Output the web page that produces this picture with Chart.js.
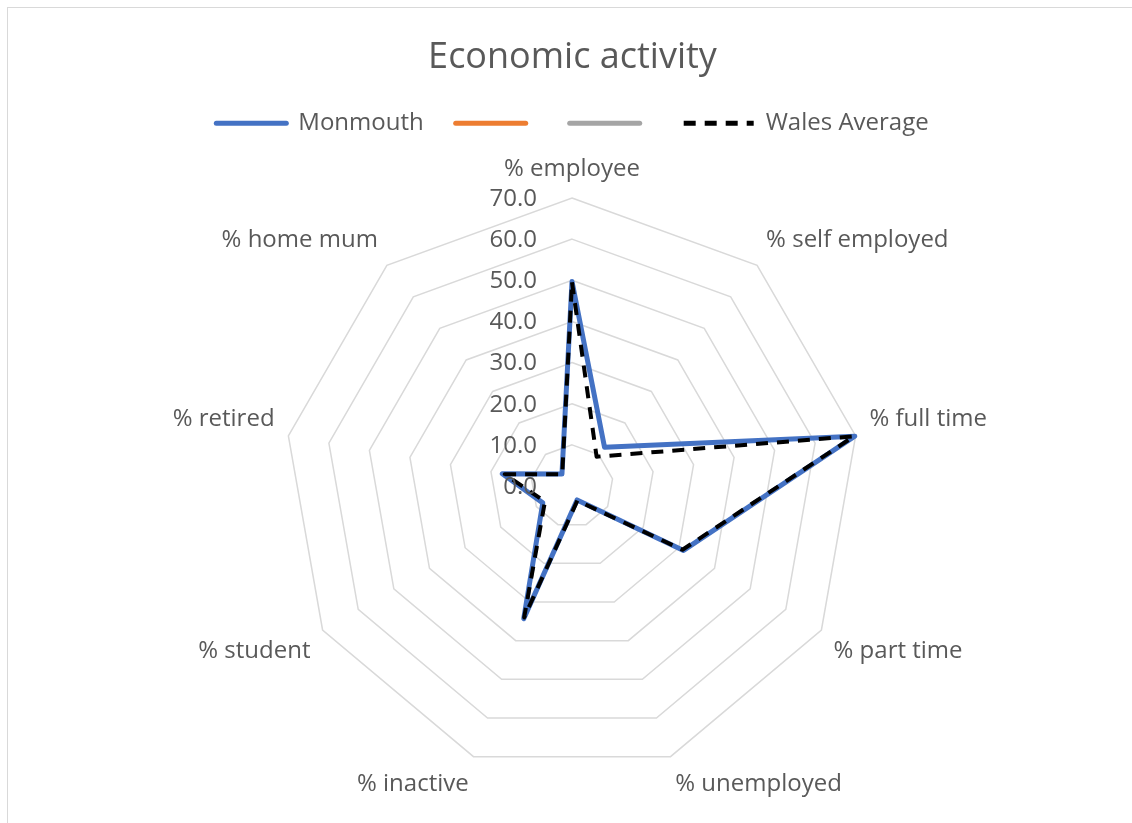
<!DOCTYPE html>
<html>
<head>
<meta charset="utf-8">
<title>Economic activity</title>
<script src="https://cdn.jsdelivr.net/npm/chart.js@4.4.1/dist/chart.umd.min.js"></script>
<style>
  html, body { margin: 0; padding: 0; background: #fff; overflow: hidden; }
  .frame {
    position: absolute; left: 7px; top: 7px;
    width: 1131px; height: 830px;
    border: 1px solid #d9d9d9; box-sizing: border-box;
  }
  canvas { display: block; }
</style>
</head>
<body>
<div class="frame"><canvas id="radar"></canvas></div>
<script>
// categories and series
const categorias = ["% employee", "% self employed", "% full time", "% part time", "% unemployed",
  "% inactive", "% student", "% retired", "% home mum"];
const monmouth = [49.7, 12.3, 69.8, 31.3, 3.6, 34.3, 8.2, 17.2, 3.8];
const walesAverage = [49.5, 9.3, 69.6, 31.0, 3.8, 34.0, 7.6, 16.6, 3.7];
const serieVacia1 = [];
const serieVacia2 = [];

const textoGris = "#595959";
const fuente = "'Open Sans', 'Liberation Sans', sans-serif";

// tick labels drawn beside the vertical axis, right aligned
const etiquetasEje = {
  id: "etiquetasEje",
  afterDatasetsDraw(chart) {
    const scale = chart.scales.r;
    const ctx = chart.ctx;
    ctx.save();
    ctx.font = "24px " + fuente;
    ctx.fillStyle = textoGris;
    ctx.textAlign = "right";
    ctx.textBaseline = "middle";
    scale.ticks.forEach(t => {
      const d = scale.getDistanceFromCenterForValue(t.value);
      ctx.fillText(t.value.toFixed(1), scale.xCenter - 35, scale.yCenter - d + 1);
    });
    ctx.restore();
  }
};

const ctx = document.getElementById("radar");
new Chart(ctx, {
  type: "radar",
  data: {
    labels: categorias,
    datasets: [
      {
        label: "Monmouth",
        data: monmouth,
        borderColor: "#4472c4",
        backgroundColor: "#4472c4",
        borderWidth: 5,
        borderJoinStyle: "round",
        borderCapStyle: "round",
        fill: false,
        pointRadius: 0,
        order: 1
      },
      {
        label: "",
        data: serieVacia1,
        borderColor: "#ed7d31",
        backgroundColor: "#ed7d31",
        borderWidth: 5,
        borderCapStyle: "round",
        fill: false,
        pointRadius: 0,
        order: 2
      },
      {
        label: "",
        data: serieVacia2,
        borderColor: "#a5a5a5",
        backgroundColor: "#a5a5a5",
        borderWidth: 5,
        borderCapStyle: "round",
        fill: false,
        pointRadius: 0,
        order: 3
      },
      {
        label: "Wales Average",
        data: walesAverage,
        borderColor: "#000000",
        backgroundColor: "#000000",
        borderWidth: 4,
        borderDash: [12, 9],
        borderJoinStyle: "round",
        fill: false,
        pointRadius: 0,
        order: 0
      }
    ]
  },
  options: {
    responsive: true,
    maintainAspectRatio: false,
    animation: false,
    layout: { padding: { top: 10, bottom: 28, left: 10, right: 10 } },
    plugins: {
      title: {
        display: true,
        text: "Economic activity",
        color: textoGris,
        font: { family: fuente, size: 36, weight: "normal" },
        padding: { top: 18, bottom: 0 }
      },
      legend: {
        display: true,
        position: "top",
        labels: {
          color: textoGris,
          font: { family: fuente, size: 24 },
          usePointStyle: true,
          pointStyle: "line",
          pointStyleWidth: 70,
          boxHeight: 10,
          padding: 32,
          sort: (a, b) => a.datasetIndex - b.datasetIndex,
          generateLabels(chart) {
            return chart.data.datasets.map((ds, i) => ({
              text: ds.label,
              fontColor: textoGris,
              strokeStyle: ds.borderColor,
              fillStyle: ds.borderColor,
              lineWidth: 5,
              lineDash: ds.borderDash || [],
              lineCap: ds.borderDash ? "butt" : "round",
              pointStyle: "line",
              hidden: false,
              datasetIndex: i
            }));
          }
        }
      },
      tooltip: { enabled: false }
    },
    scales: {
      r: {
        min: 0,
        max: 70,
        ticks: { stepSize: 10, display: false },
        angleLines: { display: false },
        grid: { circular: false, color: "#d9d9d9", lineWidth: 1.5 },
        pointLabels: {
          color: textoGris,
          font: { family: fuente, size: 24 },
          padding: 14
        }
      }
    }
  },
  plugins: [etiquetasEje]
});
</script>
</body>
</html>
